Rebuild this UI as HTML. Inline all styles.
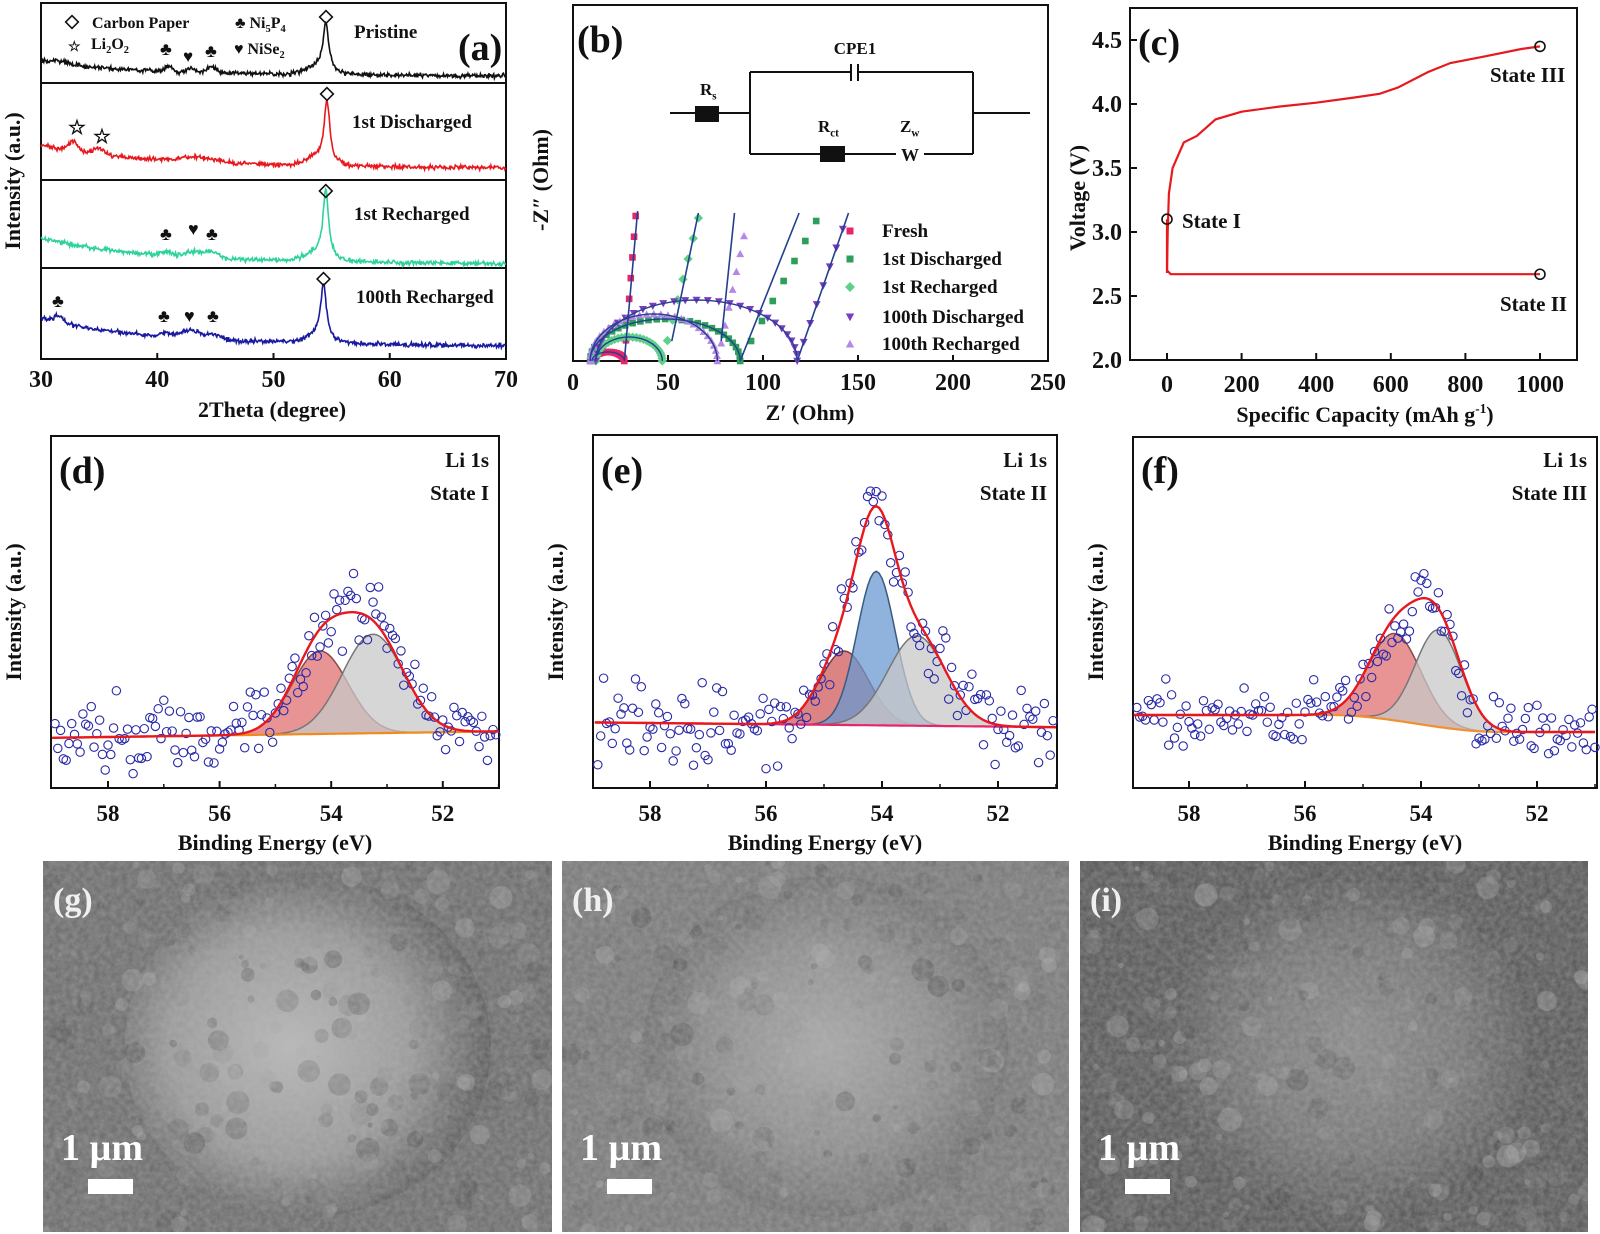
<!DOCTYPE html>
<html><head><meta charset="utf-8"><style>
html,body{margin:0;padding:0;background:#fff;}
svg{display:block}
text{font-family:"Liberation Serif",serif;font-weight:bold;fill:#111}
</style></head><body>
<svg id="s" width="1600" height="1234" viewBox="0 0 1600 1234" xmlns="http://www.w3.org/2000/svg">
<defs>
<filter id="n1" x="0" y="0" width="100%" height="100%"><feTurbulence type="fractalNoise" baseFrequency="0.18" numOctaves="3" seed="3"/><feColorMatrix type="matrix" values="0 0 0 0 0.5  0 0 0 0 0.5  0 0 0 0 0.5  0 0 0 0.9 -0.1"/></filter>
<radialGradient id="gg" cx="0.45" cy="0.5" r="0.55"><stop offset="0" stop-color="#b8b8b8"/><stop offset="0.6" stop-color="#9a9a9a"/><stop offset="1" stop-color="#5c5c5c"/></radialGradient>
<radialGradient id="gh" cx="0.5" cy="0.5" r="0.55"><stop offset="0" stop-color="#a8a8a8"/><stop offset="0.55" stop-color="#8e8e8e"/><stop offset="1" stop-color="#6a6a6a"/></radialGradient>
<radialGradient id="gi" cx="0.52" cy="0.5" r="0.55"><stop offset="0" stop-color="#8a8a8a"/><stop offset="0.55" stop-color="#777"/><stop offset="1" stop-color="#555"/></radialGradient>
<clipPath id="cg"><rect x="43" y="861" width="509" height="371"/></clipPath>
<clipPath id="ch"><rect x="562" y="861" width="507" height="371"/></clipPath>
<clipPath id="ci"><rect x="1080" y="861" width="508" height="371"/></clipPath>
</defs>
<g id="root"></g>
</svg>
<script>
var NS="http://www.w3.org/2000/svg",root=document.getElementById('root'),cur=root;
function el(t,a,txt){var e=document.createElementNS(NS,t);for(var k in a)e.setAttribute(k,a[k]);if(txt!=null)e.textContent=txt;cur.appendChild(e);return e;}
var seed=12345;function rnd(){seed=(seed*16807)%2147483647;return seed/2147483647;}
function gn(){return (rnd()+rnd()+rnd()-1.5);}
function T(x,y,s,size,anchor,extra){var a={x:x,y:y,'font-size':size||20};if(anchor)a['text-anchor']=anchor;for(var k in extra)a[k]=extra[k];return el('text',a,s);}
function TS(x,y,parts,size,anchor){var t=T(x,y,'',size,anchor);parts.forEach(function(p){var s=document.createElementNS(NS,'tspan');s.textContent=p[0];if(p[1]=='sub'){s.setAttribute('font-size',size*0.65);s.setAttribute('dy',size*0.25);}else if(p[1]=='sup'){s.setAttribute('font-size',size*0.6);s.setAttribute('dy',-size*0.4);}else if(p[1]=='n'){s.setAttribute('dy',p[2]);}t.appendChild(s);});return t;}
function pl(pts,st,w,fill){return el('path',{d:'M'+pts.map(function(p){return p[0].toFixed(1)+','+p[1].toFixed(1)}).join('L')+(fill?'Z':''),fill:fill||'none',stroke:st,'stroke-width':w||2});}
function G(x,m,s){return Math.exp(-(x-m)*(x-m)/(2*s*s));}
function L(x,m,g){return 1/(1+((x-m)/g)*((x-m)/g));}

/* ===== (a) XRD ===== */
(function(){
 var x0=41,x1=506,X=function(t){return x0+(t-30)*(x1-x0)/40;};
 el('rect',{x:x0,y:3,width:x1-x0,height:356,fill:'none',stroke:'#111','stroke-width':2});
 [83,180,268].forEach(function(y){el('line',{x1:x0,x2:x1,y1:y,y2:y,stroke:'#111','stroke-width':2});});
 var S=[
  {c:'#111',l:62,r:76,p:28,pk:54.5,ex:[[41,6,.3],[42.8,4,.3],[44.7,6,.4],[31.5,3,1]]},
  {c:'#e8191e',l:145,r:168,p:105,pk:54.6,ex:[[32.8,10,.4],[35,6,.5],[43.5,5,1.6]]},
  {c:'#2fd39a',l:238,r:264,p:195,pk:54.5,ex:[[40.8,4,.4],[43.3,6,.8],[44.8,5,.5]]},
  {c:'#1a1aa0',l:318,r:346,p:290,pk:54.3,ex:[[31.5,6,.4],[40.7,4,.4],[43,8,1],[45,4,.5]]}];
 S.forEach(function(s){var pts=[];for(var t=30;t<=70;t+=0.06){
   var b=s.l+(s.r-s.l)*(1-Math.exp(-(t-30)/8))*0.85+(t-30)/40*(s.r-s.l)*0.15;
   var y=b-(b-s.p)*L(t,s.pk,0.28)-8*G(t,53.8,1);s.ex.forEach(function(e){y-=e[1]*G(t,e[0],e[2]);});y+=gn()*2.2;pts.push([X(t),y]);}
  pl(pts,s.c,1.6);});
 T(x1-48,60,'(a)',38);
 T(354,38,'Pristine',19);T(352,128,'1st Discharged',19);T(354,220,'1st Recharged',19);T(356,303,'100th Recharged',19);
 function dia(x,y){el('rect',{x:x-4.5,y:y-4.5,width:9,height:9,fill:'none',stroke:'#111','stroke-width':1.6,transform:'rotate(45 '+x+' '+y+')'});}
 dia(326,17);dia(X(54.6),94);dia(X(54.5),191);dia(X(54.3),279);
 dia(72,22);
 T(92,28,'Carbon Paper',16);
 TS(235,28,[['♣ Ni'],['5','sub'],['P','n',-4],['4','sub']],16);
 T(68,51,'☆',14);
 TS(91,49,[['Li'],['2','sub'],['O','n',-4],['2','sub']],16);
 TS(234,54,[['♥ NiSe'],['2','sub']],16);
 T(160,55,'♣',18);T(183,62,'♥',17);T(205,57,'♣',18);
 T(68,134,'☆',20);T(93,143,'☆',20);
 T(160,240,'♣',18);T(188,235,'♥',18);T(206,240,'♣',18);
 T(52,307,'♣',18);T(158,322,'♣',18);T(184,322,'♥',18);T(207,322,'♣',18);
 [30,40,50,60,70].forEach(function(t){T(X(t),387,t,24,'middle');el('line',{x1:X(t),x2:X(t),y1:359,y2:353,stroke:'#111','stroke-width':2});});
 T(272,417,'2Theta (degree)',22,'middle');
 T(20,181,'Intensity (a.u.)',22,'middle',{transform:'rotate(-90 20 181)'});
})();

/* ===== (b) EIS ===== */
(function(){
 var x0=573,x1=1048,X=function(z){return x0+z*1.9;},yb=361;
 el('rect',{x:x0,y:5,width:x1-x0,height:356,fill:'none',stroke:'#111','stroke-width':2});
 [0,50,100,150,200,250].forEach(function(t){T(X(t),390,t,24,'middle');el('line',{x1:X(t),x2:X(t),y1:361,y2:355,stroke:'#111','stroke-width':2});});
 T(810,420,'Z′ (Ohm)',22,'middle');
 T(548,180,'-Z″ (Ohm)',22,'middle',{transform:'rotate(-90 548 180)'});
 T(577,52,'(b)',38);
 var c='#111';function ln(a,b,cc,d){el('line',{x1:a,y1:b,x2:cc,y2:d,stroke:c,'stroke-width':2});}
 ln(670,113,750,113);ln(973,113,1030,113);el('rect',{x:695,y:106,width:24,height:16,fill:c});
 ln(750,72,750,154);ln(973,72,973,154);ln(750,72,851,72);ln(859,72,973,72);ln(851,64,851,81);ln(858,64,858,81);
 ln(750,154,973,154);el('rect',{x:820,y:146,width:25,height:16,fill:c});el('rect',{x:896,y:146,width:28,height:16,fill:'#fff'});
 T(910,161,'W',18,'middle',{'font-family':'Liberation Sans'});
 T(855,54,'CPE1',17,'middle');
 TS(700,95,[['R'],['s','sub']],17);TS(818,132,[['R'],['ct','sub']],17);TS(900,132,[['Z'],['w','sub']],17);
 function arc(a,b,h,n){var p=[];for(var i=0;i<=n;i++){var th=Math.PI*i/n;p.push([(a+b)/2-(b-a)/2*Math.cos(th),h*Math.sin(th)]);}return p;}
 var series=[
  {c:'#e8246a',m:'s',a:10,b:27,h:9,t:[[27,0],[33,145]],ln:[[27,0],[34,150]]},
  {c:'#2ca05a',m:'s',a:9,b:88,h:42,t:[[88,0],[128,140]],ln:[[88,0],[119,148]]},
  {c:'#5fd08a',m:'d',a:12,b:47,h:24,t:[[47,0],[66,143]],ln:[[52,20],[66,148]]},
  {c:'#7a3cc0',m:'v',a:12,b:118,h:61,t:[[118,0],[142,132]],ln:[[118,0],[145,148]]},
  {c:'#b588e8',m:'^',a:9,b:76,h:47,t:[[76,0],[90,125]],ln:[[78,20],[85,148]]}];
 function mk(s,x,y,sz){sz=sz||3.3;
  if(s.m=='s')el('rect',{x:x-sz,y:y-sz,width:2*sz,height:2*sz,fill:s.c});
  else if(s.m=='d')el('rect',{x:x-sz,y:y-sz,width:2*sz,height:2*sz,fill:s.c,transform:'rotate(45 '+x+' '+y+')'});
  else if(s.m=='v')el('path',{d:'M'+(x-sz*1.2)+','+(y-sz)+'L'+(x+sz*1.2)+','+(y-sz)+'L'+x+','+(y+sz*1.2)+'Z',fill:s.c});
  else el('path',{d:'M'+(x-sz*1.2)+','+(y+sz)+'L'+(x+sz*1.2)+','+(y+sz)+'L'+x+','+(y-sz*1.2)+'Z',fill:s.c});}
 series.forEach(function(s){var p=arc(s.a,s.b,s.h,28);p.forEach(function(q){mk(s,X(q[0]),yb-q[1]);});
  for(var i=1;i<=7;i++){var f=i/7;mk(s,X(s.t[0][0]+(s.t[1][0]-s.t[0][0])*f),yb-(s.t[0][1]+(s.t[1][1]-s.t[0][1])*f));}});
 series.forEach(function(s){var p=arc(s.a,s.b,s.h,40).map(function(q){return[X(q[0]),yb-q[1]];});
  pl(p,'#23408e',1.4);pl([[X(s.ln[0][0]),yb-s.ln[0][1]],[X(s.ln[1][0]),yb-s.ln[1][1]]],'#23408e',1.6);});
 var names=['Fresh','1st Discharged','1st Recharged','100th Discharged','100th Recharged'],ys=[237,265,293,323,350];
 series.forEach(function(s,i){mk(s,850,ys[i]-6,3.5);T(882,ys[i],names[i],19);});
})();

/* ===== (c) ===== */
(function(){
 var x0=1130,x1=1577,X=function(c){return 1167+c*0.373;},Y=function(v){return 360-(v-2)*128;};
 el('rect',{x:x0,y:8,width:x1-x0,height:352,fill:'none',stroke:'#111','stroke-width':2});
 [0,200,400,600,800,1000].forEach(function(t){T(X(t),392,t,24,'middle');el('line',{x1:X(t),x2:X(t),y1:360,y2:353,stroke:'#111','stroke-width':2});});
 [2.0,2.5,3.0,3.5,4.0,4.5].forEach(function(v){T(x0-8,Y(v)+8,v.toFixed(1),24,'end');el('line',{x1:x0,x2:x0+7,y1:Y(v),y2:Y(v),stroke:'#111','stroke-width':2});});
 TS(1365,422,[['Specific Capacity (mAh g'],['-1','sup'],[')','n',9]],22,'middle');
 T(1085,198,'Voltage (V)',22,'middle',{transform:'rotate(-90 1085 198)'});
 T(1138,55,'(c)',38);
 var ch=[[0,2.68],[2,3.0],[5,3.3],[15,3.5],[45,3.7],[80,3.75],[130,3.88],[200,3.94],[300,3.98],[400,4.01],[500,4.05],[570,4.08],[620,4.13],[700,4.25],[760,4.32],[850,4.37],[950,4.43],[1000,4.45]];
 pl([[X(0),Y(3.1)],[X(0),Y(2.7)],[X(10),Y(2.67)],[X(1000),Y(2.67)]],'#e8191e',2.2);
 pl(ch.map(function(p){return[X(p[0]),Y(p[1])];}),'#e8191e',2.2);
 [[0,3.1],[1000,2.67],[1000,4.45]].forEach(function(p){el('circle',{cx:X(p[0]),cy:Y(p[1]),r:5,fill:'none',stroke:'#111','stroke-width':1.6});});
 T(1182,228,'State I',21);T(1490,82,'State III',21);T(1500,311,'State II',21);
})();

/* ===== XPS ===== */
function xps(o){
 var X=function(b){return o.x58+(58-b)*o.k;};
 el('rect',{x:o.x0,y:o.y0,width:o.x1-o.x0,height:788-o.y0,fill:'none',stroke:'#111','stroke-width':2});
 [58,56,54,52].forEach(function(t){T(X(t),821,t,23,'middle');el('line',{x1:X(t),x2:X(t),y1:788,y2:781,stroke:'#111','stroke-width':2});});
 [57,55,53,51].forEach(function(t){if(X(t)<o.x1)el('line',{x1:X(t),x2:X(t),y1:788,y2:784,stroke:'#111','stroke-width':1.5});});
 T((o.x0+o.x1)/2,850,'Binding Energy (eV)',22,'middle');
 T(o.x0-30,612,'Intensity (a.u.)',22,'middle',{transform:'rotate(-90 '+(o.x0-30)+' 612)'});
 T(o.x0+8,483,o.lab,38);
 T(o.x1-10,467,'Li 1s',21,'end');T(o.x1-10,500,o.st,21,'end');
 var bs=[];for(var b=59;b>=50.9;b-=0.05){bs.push(b);}
 var base=function(b){return o.base(b);};
 o.comps.forEach(function(c){var top=[],bot=[];bs.forEach(function(b){var x=X(b);if(x<o.x0||x>o.x1)return;top.push([x,base(b)-c.h*G(b,c.m,c.s)]);bot.push([x,base(b)]);});
  el('path',{d:'M'+top.map(function(p){return p[0].toFixed(1)+','+p[1].toFixed(1)}).join('L')+'L'+bot.reverse().map(function(p){return p[0].toFixed(1)+','+p[1].toFixed(1)}).join('L')+'Z',fill:c.f,'fill-opacity':0.75,stroke:c.st,'stroke-width':1.5});});
 var bl=[],env=[];bs.forEach(function(b){var x=X(b);if(x<o.x0||x>o.x1)return;bl.push([x,base(b)]);var y=base(b);o.comps.forEach(function(c){y-=c.h*G(b,c.m,c.s);});env.push([x,y]);});
 pl(bl,o.blc,2.2);
 for(var b=59;b>=50.95;b-=0.05){var x=X(b);if(x<o.x0+2||x>o.x1-2)continue;var y=base(b);o.comps.forEach(function(c){y-=c.h*G(b,c.m,c.s);});y+=gn()*o.nz;
  el('circle',{cx:x,cy:y,r:4.2,fill:'none',stroke:'#2a2aa8','stroke-width':1.1});}
 pl(env,'#e8191e',2.4);
}
xps({x0:51,x1:499,y0:436,x58:108,k:55.8,lab:'(d)',st:'State I',blc:'#f08a1c',
 base:function(b){return 737-(58-b)*0.8;},nz:34,
 comps:[{m:54.2,s:0.5,h:83,f:'#e07070',st:'#8a4a4a'},{m:53.25,s:0.55,h:99,f:'#c8c8c8',st:'#777'}]});
xps({x0:593,x1:1057,y0:435,x58:650,k:58,lab:'(e)',st:'State II',blc:'#e8246a',
 base:function(b){return 723+(58-b)*0.6;},nz:38,
 comps:[{m:54.65,s:0.42,h:74,f:'#d05a5a',st:'#7a3a3a'},{m:54.1,s:0.33,h:154,f:'#6a9ad0',st:'#3a5a80'},{m:53.4,s:0.5,h:90,f:'#c8c8c8',st:'#777'}]});
xps({x0:1133,x1:1597,y0:437,x58:1189,k:58,lab:'(f)',st:'State III',blc:'#f09030',
 base:function(b){var t=Math.max(0,Math.min(1,(55.6-b)/3));return 715+17*(0.5-0.5*Math.cos(Math.PI*t));},nz:30,
 comps:[{m:54.45,s:0.45,h:87,f:'#e07070',st:'#8a4a4a'},{m:53.7,s:0.4,h:97,f:'#c8c8c8',st:'#777'}]});

/* ===== SEM ===== */
function sem(x0,x1,lab,grad,dark,clip){
 var y0=861,y1=1232,w=x1-x0,h=y1-y0;
 var g=document.createElementNS(NS,'g');g.setAttribute('clip-path','url(#'+clip+')');root.appendChild(g);cur=g;
 el('rect',{x:x0,y:y0,width:w,height:h,fill:dark});
 el('ellipse',{cx:x0+w*0.52,cy:y0+h*0.5,rx:w*0.36,ry:h*0.46,fill:grad});
 for(var i=0;i<260;i++){var cx=x0+rnd()*w,cy=y0+rnd()*h,r=2+rnd()*10;var gg=Math.floor(70+rnd()*110);
  el('circle',{cx:cx,cy:cy,r:r,fill:'rgb('+gg+','+gg+','+gg+')','fill-opacity':0.35});}
 el('rect',{x:x0,y:y0,width:w,height:h,filter:'url(#n1)',opacity:0.55});
 T(x0+10,y0+50,lab,34,null,{style:'fill:#f0f0f0'});
 T(x0+18,y1-72,'1 µm',38,null,{style:'fill:#fff'});
 el('rect',{x:x0+45,y:y1-53,width:45,height:15,fill:'#fff'});
 cur=root;
}
sem(43,552,'(g)','url(#gg)','#6e6e6e','cg');
sem(562,1069,'(h)','url(#gh)','#7a7a7a','ch');
sem(1080,1588,'(i)','url(#gi)','#5a5a5a','ci');
</script>
</body></html>
